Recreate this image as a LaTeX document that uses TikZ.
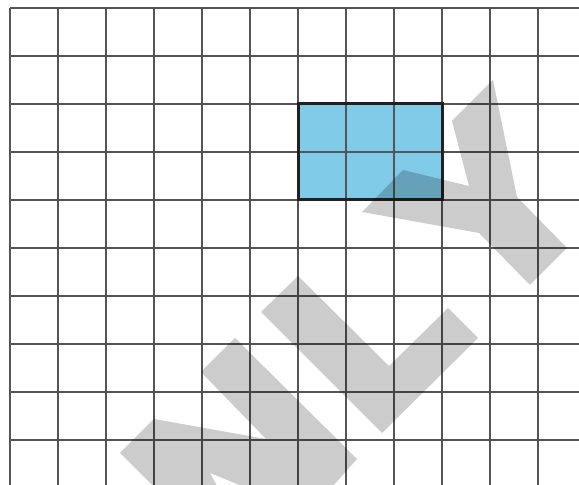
\documentclass[tikz,border=0pt]{standalone}
\definecolor{cellblue}{RGB}{127,203,232}
\definecolor{gridgray}{RGB}{85,85,85}
\definecolor{edgeblack}{RGB}{35,31,32}
\tikzset{
  gridline/.style={draw=gridgray,line width=0.6pt},
  wmark/.style={fill=black,fill opacity=0.2}
}
\begin{document}
\begin{tikzpicture}[x=0.5pt,y=-0.5pt]
\useasboundingbox (0,0) rectangle (579,485);
\clip (0,0) rectangle (579,485);

% shaded block
\fill[cellblue] (298,104) rectangle (442,200);

% grid
\foreach \y in {8,56,...,440}
  \draw[gridline] (10,\y) -- (590,\y);
\foreach \x in {10,58,...,538}
  \draw[gridline] (\x,8) -- (\x,495);

\draw[edgeblack,line width=1.5pt] (298,104) rectangle (442,200);

% watermark letters
\fill[wmark] (120,453) -- (154,419) -- (266,439) -- (201,372) -- (235,338)
  -- (357,459) -- (325,495) -- (264,495) -- (210,473) -- (222,495) -- (162,495) -- cycle;
\fill[wmark] (298,276) -- (389,366) -- (448,308) -- (478,338) -- (382,433) -- (261,312) -- cycle;
\fill[wmark] (493,80) -- (517,197) -- (567,248) -- (530,285) -- (479,233)
  -- (362,212) -- (403,170) -- (469,186) -- (452,121) -- cycle;
\end{tikzpicture}
\end{document}
